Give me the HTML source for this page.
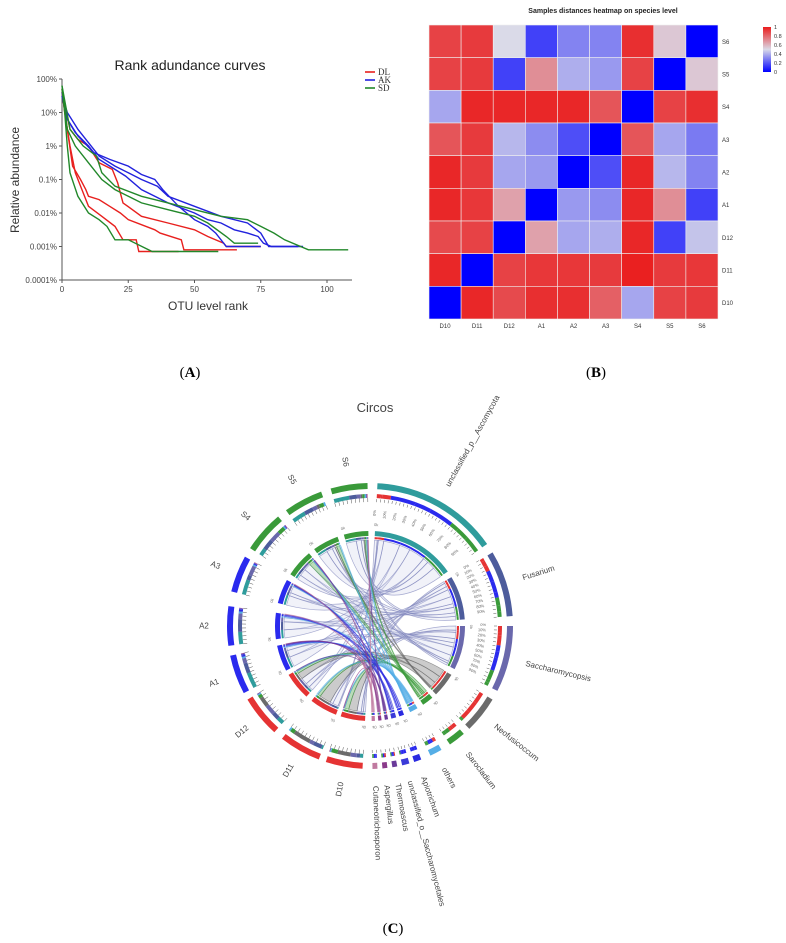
<!DOCTYPE html>
<html><head><meta charset="utf-8"><style>
html,body{margin:0;padding:0;background:#fff;}
body{width:786px;height:943px;overflow:hidden;font-family:"Liberation Sans",sans-serif;}
svg{position:absolute;left:0;top:0;}
</style></head><body>
<svg id="fig" width="786" height="943" viewBox="0 0 786 943" xmlns="http://www.w3.org/2000/svg">
<g id="panelA"></g>
<g id="panelB"></g>
<g id="panelC"></g>
<text x="190" y="377" font-family="Liberation Serif,serif" font-size="15" text-anchor="middle">(<tspan font-weight="bold">A</tspan>)</text>
<text x="596" y="377" font-family="Liberation Serif,serif" font-size="15" text-anchor="middle">(<tspan font-weight="bold">B</tspan>)</text>
<text x="393" y="933" font-family="Liberation Serif,serif" font-size="15" text-anchor="middle">(<tspan font-weight="bold">C</tspan>)</text>
</svg>
<script>
const NS="http://www.w3.org/2000/svg";
function mk(parent,tag,attrs,txt){const e=document.createElementNS(NS,tag);for(const k in attrs)e.setAttribute(k,attrs[k]);if(txt!==undefined)e.textContent=txt;parent.appendChild(e);return e;}

/* ---------- Panel A data ---------- */
const rankTicks=[0,25,50,75,100];
const abundTickExp=[2,1,0,-1,-2,-3,-4];
const abundTickLabels=["100%","10%","1%","0.1%","0.01%","0.001%","0.0001%"];
const groupNames=["DL","AK","SD"];
const groupColors=["#e8201e","#2222dd","#22882a"];
const curveGroup=[0,0,0,1,1,1,2,2,2];
const curveRanks=[
[0,1,3,5,8,10,15,20,23,28,29,44],
[0,2,4,7,9,10,14,18,22,25,35,37,45,46,66],
[0,3,6,10,14,19,21,23,30,40,50,55,61,62,75],
[0,2,6,10,14,20,25,30,36,40,50,60,70,75,78,91],
[0,2,5,10,14,20,24,30,35,40,50,55,60,65,70,74,76,79,89],
[0,2,6,12,18,25,30,35,38,44,50,55,58,60,62,75],
[0,1,2,3,6,10,14,17,20,25,34,59],
[0,2,5,10,15,20,25,30,40,50,55,62,65,74],
[0,3,8,13,15,20,30,40,50,60,70,75,80,84,93,108]];
const curveExp=[
[1.7,1,0,-0.8,-1.4,-1.8,-2.1,-2.4,-2.8,-2.8,-3.15,-3.15],
[1.6,0.5,-0.6,-1,-1.3,-1.5,-1.6,-1.8,-2,-2.2,-2.5,-2.6,-2.8,-3.1,-3.1],
[1.6,0.5,0.2,0,-0.5,-0.7,-1.1,-1.7,-2.1,-2.3,-2.5,-2.7,-2.9,-3,-3],
[1.5,1,0.5,0.1,-0.3,-0.6,-0.8,-1,-1.2,-1.5,-1.8,-2.1,-2.3,-2.6,-3,-3],
[1.5,0.8,0.4,0,-0.4,-0.7,-0.9,-1.3,-1.5,-1.7,-2,-2.2,-2.3,-2.5,-2.6,-2.7,-2.9,-3,-3],
[1.6,0.8,0.3,-0.2,-0.4,-0.6,-0.85,-1,-1.3,-1.8,-2.2,-2.4,-2.6,-2.8,-3,-3],
[1.7,1,0,-0.8,-1.5,-2,-2.2,-2.4,-2.8,-2.8,-3.15,-3.15],
[1.8,0.5,0,-0.5,-1,-1.3,-1.5,-1.7,-1.9,-2.1,-2.3,-2.7,-2.9,-2.9],
[1.8,0.5,0,-0.3,-0.8,-1.2,-1.5,-1.7,-1.9,-2.1,-2.2,-2.4,-2.6,-2.8,-3.1,-3.1]];

/* ---------- Panel B data ---------- */
const hmCols=["D10","D11","D12","A1","A2","A3","S4","S5","S6"];
const hmRows=["S6","S5","S4","A3","A2","A1","D12","D11","D10"];
const hmValues=[
[.9,.92,.5,.15,.3,.3,.95,.55,0],
[.9,.92,.15,.7,.4,.35,.9,0,.55],
[.38,.97,.97,.97,.97,.85,0,.9,.95],
[.85,.92,.42,.32,.18,0,.85,.38,.28],
[.97,.92,.38,.35,0,.18,.97,.42,.3],
[.97,.93,.65,0,.35,.32,.97,.7,.15],
[.88,.9,0,.65,.38,.4,.97,.15,.45],
[.97,0,.9,.93,.93,.92,.99,.92,.93],
[0,.97,.88,.95,.95,.82,.38,.9,.92]];
const legendTicks=[1,0.8,0.6,0.4,0.2,0];

/* ---------- Panel C data ---------- */
const speciesNames=["unclassified_p__Ascomycota","Fusarium","Saccharomycopsis","Neofusicoccum","Sarocladium","others","Apiotrichum","unclassified_o__Saccharomycetales","Thermoascus","Aspergillus","Cutaneotrichosporon"];
const speciesColors=["#2f9c9c","#4d5c9c","#6a68ac","#6b6b6b","#3a9a3a","#55aee6","#2a2ae0","#3a3ad8","#6a3a9a","#8a3a8a","#c07aa0"];
const speciesStart=[3,59,90,121,139,150,159,164,169,173,177];
const speciesEnd=[55,86,117,136,146,155,162,167,171,175,179];
const sampleNames=["D10","D11","D12","A1","A2","A3","S4","S5","S6"];
const sampleColors=["#e53333","#e53333","#e53333","#2a2aee","#2a2aee","#2a2aee","#3a9a3a","#3a9a3a","#3a9a3a"];
const sampleStart=[183,201,222,242,262,284,303,324,344];
const sampleEnd=[198,218,239,258,278,299,320,340,359];
const flows=[
[0.5,0.2,1,3,2,3,1,1.5,2],
[0.5,1,1,2,2,1,1.5,1,1],
[1,0.5,1.5,1,1,2,1.5,0.5,0.5],
[2,2,1.5,0,0,0,0,0.3,0.2],
[1,0.5,0.5,0,0,0,1,0.5,0.3],
[0.2,0.2,0.2,0.3,0.3,0.3,0.2,0.2,0.2],
[0,0,0,0.3,0.3,0.2,0,0,0],
[0,0,0,0.2,0.2,0.1,0.1,0,0],
[0,0,0.1,0.1,0,0.1,0,0,0.1],
[0.1,0,0,0.1,0,0,0.1,0,0],
[0,0,0,0,0.1,0.1,0,0,0.1]];
const pctLabels=["0%","10%","20%","30%","40%","50%","60%","70%","80%","90%"];

/* ================= Panel A ================= */
(function(){
const g=document.getElementById('panelA');
const X0=62,X1=352,Y0=79,Y1=280;
const xS=r=>X0+r*(327-62)/100;
const yS=e=>Y0+(2-e)*(Y1-Y0)/6;
let t=mk(g,'text',{x:190,y:70,'font-size':14,fill:'#222','text-anchor':'middle'},"Rank adundance curves");


let ax=mk(g,'line',{x1:X0,y1:Y0,x2:X0,y2:Y1,stroke:'#555','stroke-width':1});

ax=mk(g,'line',{x1:X0,y1:Y1,x2:X1,y2:Y1,stroke:'#555','stroke-width':1});

abundTickExp.forEach((e,i)=>{
  mk(g,'line',{x1:X0-3,y1:yS(e),x2:X0,y2:yS(e),stroke:'#555'});
  const l=mk(g,'text',{x:X0-5,y:yS(e)+3,'font-size':8,fill:'#444','text-anchor':'end'},abundTickLabels[i]);
  
});
rankTicks.forEach(r=>{
  mk(g,'line',{x1:xS(r),y1:Y1,x2:xS(r),y2:Y1+3,stroke:'#555'});
  const l=mk(g,'text',{x:xS(r),y:Y1+12,'font-size':8,fill:'#444','text-anchor':'middle'},String(r));
  
});
t=mk(g,'text',{x:208,y:310,'font-size':12,fill:'#333','text-anchor':'middle'},"OTU level rank");

t=mk(g,'text',{x:19,y:180,'font-size':12,fill:'#333','text-anchor':'middle',transform:'rotate(-90 19 180)'},"Relative abundance");

curveRanks.forEach((rs,i)=>{
  const pts=rs.map((r,j)=>xS(r).toFixed(1)+','+yS(curveExp[i][j]).toFixed(1)).join(' ');
  const p=mk(g,'polyline',{points:pts,fill:'none',stroke:groupColors[curveGroup[i]],'stroke-width':1.4});
  
  
});
groupNames.forEach((n,i)=>{
  const y=72+i*8;
  const le=mk(g,'g',{});
  
  mk(le,'line',{x1:365,y1:y,x2:375,y2:y,stroke:groupColors[i],'stroke-width':1.6});
  mk(le,'text',{x:378,y:y+3,'font-size':9,'font-family':'Liberation Serif,serif',fill:'#333'},n);
});
})();

/* ================= Panel B ================= */
(function(){
const g=document.getElementById('panelB');
const X0=429,X1=718,Y0=25,Y1=319;
const cw=(X1-X0)/hmCols.length,ch=(Y1-Y0)/hmRows.length;
function col(v){
  const lo=[0,0,255],mid=[218,218,232],hi=[234,28,28];
  let a,b,t;
  if(v<0.5){a=lo;b=mid;t=v/0.5;}else{a=mid;b=hi;t=(v-0.5)/0.5;}
  return 'rgb('+a.map((c,i)=>Math.round(c+(b[i]-c)*t)).join(',')+')';
}
let t=mk(g,'text',{x:603,y:13,'font-size':7,'font-weight':'bold',fill:'#222','text-anchor':'middle'},"Samples distances heatmap on species level");

hmValues.forEach((row,r)=>row.forEach((v,c)=>{
  const rc=mk(g,'rect',{x:X0+c*cw,y:Y0+r*ch,width:cw,height:ch,fill:col(v),stroke:'#f0f0f0','stroke-width':0.6});
  
  
}));
hmRows.forEach((n,r)=>{
  const l=mk(g,'text',{x:X1+4,y:Y0+(r+0.5)*ch+2.5,'font-size':6,fill:'#333'},n);
  
});
hmCols.forEach((n,c)=>{
  const l=mk(g,'text',{x:X0+(c+0.5)*cw,y:Y1+9,'font-size':6,fill:'#333','text-anchor':'middle'},n);
  
});
const lg=mk(g,'defs',{});
const gr=mk(lg,'linearGradient',{id:'hmgrad',x1:0,y1:0,x2:0,y2:1});
[[0,col(1)],[0.5,col(0.5)],[1,col(0)]].forEach(s=>mk(gr,'stop',{offset:s[0],'stop-color':s[1]}));
const cb=mk(g,'rect',{x:763,y:27,width:8,height:45,fill:'url(#hmgrad)'});

legendTicks.forEach(v=>{
  const l=mk(g,'text',{x:774,y:27+(1-v)*45+2,'font-size':5.5,fill:'#333'},String(v));
  
});
})();

/* ================= Panel C ================= */
(function(){
const g=document.getElementById('panelC');
const cx=370,cy=626;
const rad=d=>d*Math.PI/180;
const pt=(r,d)=>[cx+r*Math.sin(rad(d)),cy-r*Math.cos(rad(d))];
const f=p=>p[0].toFixed(2)+' '+p[1].toFixed(2);
function band(r0,r1,a0,a1){
  const lg=(a1-a0)>180?1:0;
  return 'M'+f(pt(r1,a0))+' A'+r1+' '+r1+' 0 '+lg+' 1 '+f(pt(r1,a1))+' L'+f(pt(r0,a1))+' A'+r0+' '+r0+' 0 '+lg+' 0 '+f(pt(r0,a0))+' Z';
}
let t=mk(g,'text',{x:375,y:412,'font-size':13,fill:'#444','text-anchor':'middle'},"Circos");


const nS=speciesNames.length,nM=sampleNames.length;
const rowSum=flows.map(r=>r.reduce((a,b)=>a+b,0));
const colSum=sampleNames.map((_,j)=>flows.reduce((a,r)=>a+r[j],0));
const spPos=flows.map(()=>[]),smPos=flows.map(()=>[]);
flows.forEach((row,i)=>{let a=speciesStart[i];const span=speciesEnd[i]-speciesStart[i];
  row.forEach((v,j)=>{const w=span*v/rowSum[i];spPos[i][j]=[a,a+w];a+=w;});});
const colCursor=sampleStart.slice();
for(let j=0;j<nM;j++){const span=sampleEnd[j]-sampleStart[j];
  for(let i=0;i<nS;i++){const w=span*flows[i][j]/colSum[j];smPos[i][j]=[colCursor[j],colCursor[j]+w];colCursor[j]+=w;}}

const RR=86;
for(let i=0;i<nS;i++)for(let j=0;j<nM;j++){
  if(flows[i][j]<=0)continue;
  const [a0,a1]=smPos[i][j],[b0,b1]=spPos[i][j];
  const d='M'+f(pt(RR,a0))+' A'+RR+' '+RR+' 0 0 1 '+f(pt(RR,a1))+' Q'+cx+' '+cy+' '+f(pt(RR,b0))+' A'+RR+' '+RR+' 0 0 1 '+f(pt(RR,b1))+' Q'+cx+' '+cy+' '+f(pt(RR,a0))+' Z';
  const p=mk(g,'path',{d:d,fill:i<3?'#c9cde6':speciesColors[i],'fill-opacity':i<3?0.25:0.35,stroke:i<3?'#7a80b8':speciesColors[i],'stroke-opacity':0.65,'stroke-width':0.7});
  
  
}
function segment(name,color,a0,a1,parts,partColors,isSpecies,idx){
  const sg=mk(g,'g',{});
  
  
  mk(sg,'path',{d:band(137,143,a0,a1),fill:color});
  mk(sg,'path',{d:band(90,95,a0,a1),fill:color});
  parts.forEach((p,k)=>{if(p[1]-p[0]<=0)return;
    mk(sg,'path',{d:band(128,132,p[0],p[1]),fill:partColors[k]});
    mk(sg,'path',{d:band(87,89,p[0],p[1]),fill:partColors[k]});
  });
  const span=a1-a0;const n=Math.max(1,Math.round(span/1.8));
  for(let k=0;k<=n;k++){const a=a0+span*k/n;const p0=pt(isSpecies?127:124,a),p1=pt(isSpecies?124:128,a);
    mk(sg,'line',{x1:p0[0],y1:p0[1],x2:p1[0],y2:p1[1],stroke:'#555','stroke-width':0.5});}
  const zp=pt(100,a0+0.5);
  mk(sg,'text',{x:zp[0],y:zp[1],'font-size':4,fill:'#777','text-anchor':'middle',transform:'rotate('+a0+' '+zp[0]+' '+zp[1]+')'},"0k");
  if(isSpecies&&idx<3){
    pctLabels.forEach((lab,k)=>{const a=a0+span*k/10;const lp=pt(116,a);
      mk(sg,'text',{x:lp[0],y:lp[1],'font-size':4,fill:'#666','text-anchor':'end',transform:'rotate('+(a-90)+' '+lp[0]+' '+lp[1]+')'},lab);});
  }
  const mid=(a0+a1)/2;
  if(isSpecies){const lp=pt(160,mid);
    const l=mk(g,'text',{x:lp[0],y:lp[1]+2.5,'font-size':8,fill:'#444',transform:'rotate('+(mid-90)+' '+lp[0]+' '+lp[1]+')'},name);
    
  }else{const lp=pt(166,mid);
    const l=mk(g,'text',{x:lp[0],y:lp[1]+2.5,'font-size':8,fill:'#444','text-anchor':'middle',transform:'rotate('+(mid+90)+' '+lp[0]+' '+lp[1]+')'},name);
    
  }
}
speciesNames.forEach((n,i)=>segment(n,speciesColors[i],speciesStart[i],speciesEnd[i],spPos[i],sampleColors,true,i));
sampleNames.forEach((n,j)=>segment(n,sampleColors[j],sampleStart[j],sampleEnd[j],flows.map((_,i)=>smPos[i][j]),speciesColors,false,j));
})();
</script>
</body></html>
